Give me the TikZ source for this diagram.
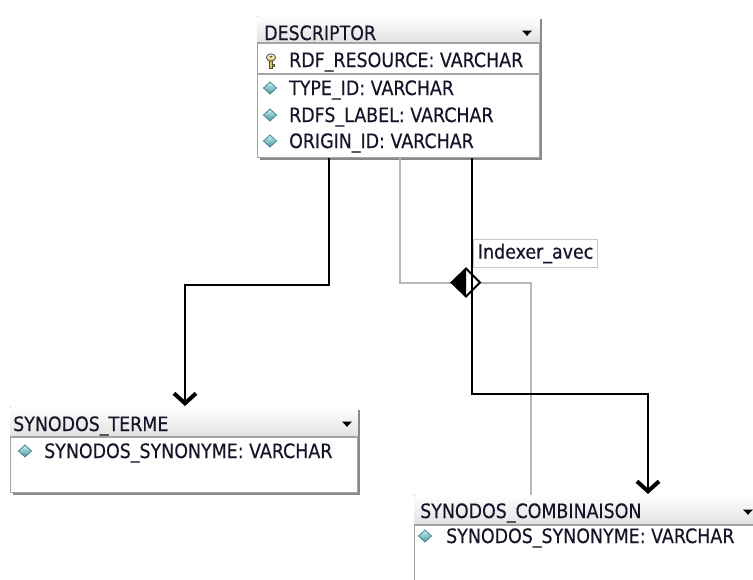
\documentclass[tikz,border=0pt]{standalone}
\usepackage{fontspec}
\setmainfont{DejaVu Sans}[FakeStretch=0.88, FakeBold=0.35]
\usetikzlibrary{arrows.meta,calc,shadows}

\definecolor{boxline}{HTML}{A4A4A4}
\definecolor{shadowc}{HTML}{8A8A8A}
\definecolor{conngray}{HTML}{B8B8B8}
\definecolor{txt}{HTML}{15152A}
\definecolor{iconfill}{HTML}{6FDCE2}
\definecolor{iconline}{HTML}{3A8890}
\definecolor{keyfill}{HTML}{D8C25A}
\definecolor{keyline}{HTML}{5A5030}

\tikzset{
  tablebox/.style={rectangle, draw=boxline, line width=1.2pt, fill=white,
    inner sep=0pt, anchor=north west,
    drop shadow={shadow xshift=2.5pt, shadow yshift=-2.5pt, fill=shadowc, opacity=1}},
  headband/.style={top color=white, bottom color=black!12},
  sepline/.style={draw=boxline, line width=1.2pt},
  celltext/.style={anchor=base west, inner sep=0pt, text=txt,
    font=\fontsize{19.8pt}{22pt}\selectfont},
  blackconn/.style={draw=black, line width=2pt},
  grayconn/.style={draw=conngray, line width=1.6pt},
  chevron/.style={-{Straight Barb[length=10pt, width=22pt, line width=4pt]}},
  tagbox/.style={rectangle, draw=black!22, line width=1pt, fill=white,
    anchor=north west, inner xsep=4.5pt, inner ysep=0pt, minimum height=28pt,
    text=txt, font=\fontsize{19.8pt}{22pt}\selectfont},
  attricon/.pic={
    \path[draw=iconline, line width=0.8pt, top color=iconfill!40!white, bottom color=iconline!90]
      (-6.5,0) -- (0,-6) -- (6.5,0) -- (0,6) -- cycle;
  },
  keyicon/.pic={
    \path[draw=keyline, line width=0.7pt, fill=keyfill] (-1.6,-1) rectangle (1.6,7);
    \path[draw=keyline, line width=0.7pt, fill=keyfill] (1.6,3) -- (3.6,3) -- (3.6,5) -- (1.6,5);
    \path[draw=keyline, line width=0.8pt, top color=white, bottom color=keyfill]
      (0,-3.5) ellipse [x radius=4.6pt, y radius=3.6pt];
    \fill[keyline] (0,-4.5) ellipse [x radius=1.5pt, y radius=1pt];
  },
  dropmark/.pic={
    \fill[black] (-5,-2.5) -- (5,-2.5) -- (0,2.8) -- cycle;
  }
}

\begin{document}
\begin{tikzpicture}[x=1pt, y=-1pt]
\useasboundingbox (0,0) rectangle (753,579);
\clip (0,0) rectangle (753,579);

% ---------------- DESCRIPTOR ----------------
\node[tablebox, minimum width=282pt, minimum height=141pt] (desc) at (257,16) {};
\path[headband] ($(desc.north west)+(0.6,0.6)$) rectangle ($(desc.north east)+(-0.6,27)$);
\draw[sepline] ($(desc.north west)+(0,27)$) -- ($(desc.north east)+(0,27)$);
\draw[sepline] ($(desc.north west)+(0,58)$) -- ($(desc.north east)+(0,58)$);
\node[celltext] (descT) at (264,40) {DESCRIPTOR};
\pic at (527,33) {dropmark};
\pic at (271,61) {keyicon};
\node[celltext] (descA) at (289,67) {RDF\_RESOURCE: VARCHAR};
\pic at (270,88) {attricon};
\node[celltext] (descB) at (289,95) {TYPE\_ID: VARCHAR};
\pic at (270,115) {attricon};
\node[celltext] (descC) at (289,122) {RDFS\_LABEL: VARCHAR};
\pic at (270,141) {attricon};
\node[celltext] (descD) at (289,148) {ORIGIN\_ID: VARCHAR};

% ---------------- SYNODOS_TERME ----------------
\node[tablebox, minimum width=347pt, minimum height=85pt] (term) at (10,407) {};
\path[headband] ($(term.north west)+(0.6,0.6)$) rectangle ($(term.north east)+(-0.6,30)$);
\draw[sepline] ($(term.north west)+(0,30)$) -- ($(term.north east)+(0,30)$);
\node[celltext] (termT) at (13,431) {SYNODOS\_TERME};
\pic at (347,424) {dropmark};
\pic at (25,451) {attricon};
\node[celltext] (termA) at (44,458) {SYNODOS\_SYNONYME: VARCHAR};

% ---------------- SYNODOS_COMBINAISON ----------------
\node[tablebox, minimum width=380pt, minimum height=120pt] (comb) at (414,495) {};
\path[headband] ($(comb.north west)+(0.6,0.6)$) rectangle ($(comb.north east)+(-0.6,30)$);
\draw[sepline] ($(comb.north west)+(0,30)$) -- ($(comb.north east)+(0,30)$);
\node[celltext] (combT) at (420,518) {SYNODOS\_COMBINAISON};
\pic at (748,512) {dropmark};
\pic at (425,536) {attricon};
\node[celltext] (combA) at (446,543) {SYNODOS\_SYNONYME: VARCHAR};

% ---------------- connectors ----------------
\draw[blackconn, chevron] ($(desc.south west)+(72,0)$) -- ++(0,127)
  -| ($(term.north west)+(175,-1)$);
\draw[grayconn] ($(desc.south west)+(143,0)$) -- ++(0,125)
  -| ($(comb.north west)+(117,0)$);

% aggregation diamond: left half solid, right half open
\coordinate (agg) at (466,282.5);
\path[fill=white, draw=black, line width=1.8pt]
  ($(agg)+(-14.5,0)$) -- ($(agg)+(0,-14)$) -- ($(agg)+(14,0)$) -- ($(agg)+(0,14)$) -- cycle;
\fill[black] ($(agg)+(-14.5,0)$) -- ($(agg)+(0,-14)$) -- ($(agg)+(0,14)$) -- cycle;

\draw[blackconn, chevron] ($(desc.south west)+(215,0)$) -- ++(0,236)
  -| ($(comb.north west)+(234,-1)$);

\node[tagbox] (lbl) at (473,239) {Indexer\_avec};
\end{tikzpicture}
\end{document}
